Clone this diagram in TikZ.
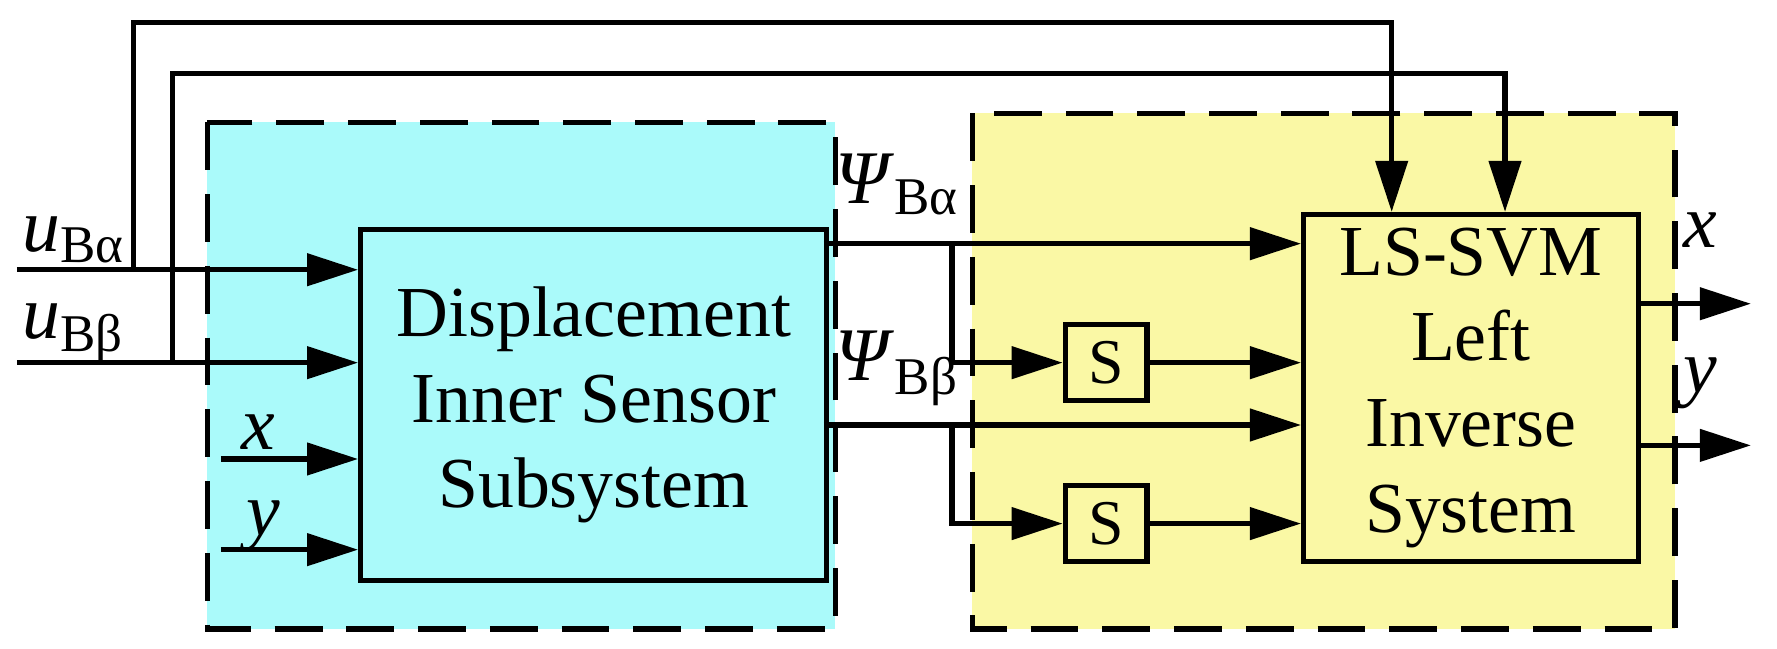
\documentclass[tikz,border=0pt]{standalone}
\usepackage{fontspec}
\setmainfont{Liberation Serif}
\usetikzlibrary{arrows.meta}
\definecolor{cyanbg}{RGB}{170,250,250}
\definecolor{yelbg}{RGB}{250,248,165}
\begin{document}
\begin{tikzpicture}[x=0.01cm,y=-0.01cm,line width=1.3pt,
  arr/.style={-{Triangle[length=0.45cm,width=0.28cm]}},
  dbox/.style={draw,dashed,dash pattern=on 12pt off 6pt,line width=1.3pt},
  blk/.style={draw,line width=1.3pt},
  txt/.style={font=\fontsize{19}{21}\selectfont,inner sep=0pt},
  big/.style={font=\fontsize{18}{21.5}\selectfont,align=center}]
\useasboundingbox (0,0) rectangle (1568,572);
\fill[cyanbg] (183,108) rectangle (737,555);
\draw[dbox] (183,108) rectangle (737,555);
\fill[yelbg] (858,100) rectangle (1478,555);
\draw[dbox] (858,100) rectangle (1478,555);
\node[blk,minimum width=4.11cm,minimum height=3.1cm,big,anchor=north west] (D) at (316,200) {Displacement\\Inner Sensor\\Subsystem};
\node[blk,minimum width=2.95cm,minimum height=2.96cm,big,anchor=north west] (L) at (1148,187) {LS-SVM\\Left\\Inverse\\System};
\node[blk,minimum width=0.72cm,minimum height=0.67cm,font=\fontsize{16}{18}\selectfont] (S1) at (976,320) {S};
\node[blk,minimum width=0.72cm,minimum height=0.67cm,font=\fontsize{16}{18}\selectfont] (S2) at (976,462) {S};
\coordinate (ua) at (15,238); \coordinate (ub) at (15,320);
\coordinate (xi) at (195,405); \coordinate (yi) at (195,485);
\draw[arr] (ua) -- (ua -| D.west);
\draw[arr] (ub) -- (ub -| D.west);
\draw[arr] (xi) -- (xi -| D.west);
\draw[arr] (yi) -- (yi -| D.west);
\coordinate (ta) at (118,238); \coordinate (tb) at (152,320);
\draw[arr] (ta) -- (118,20) -- (1228,20) -- (1228,187);
\draw[arr] (tb) -- (152,65) -- (1328,65) -- (1328,187);
\coordinate (pa) at (727,215); \coordinate (pb) at (727,375);
\draw[arr] (pa) -- (pa -| L.west);
\draw[arr] (pb) -- (pb -| L.west);
\draw[arr] (840,215) -- (840,320) -- (S1.west);
\draw[arr] (840,375) -- (840,462) -- (S2.west);
\draw[arr] (S1.east) -- (S1.east -| L.west);
\draw[arr] (S2.east) -- (S2.east -| L.west);
\coordinate (xo) at (1545,268); \coordinate (yo) at (1545,393);
\draw[arr] (xo -| L.east) -- (xo);
\draw[arr] (yo -| L.east) -- (yo);
\node[txt] (l1) at (65,212) {\textit{u}\textsubscript{Bα}};
\node[txt] (l2) at (65,294) {\textit{u}\textsubscript{Bβ}};
\node[txt] (l3) at (228,381) {\textit{x}};
\node[txt] (l4) at (232,464) {\textit{y}};
\node[txt] (l5) at (792,163) {\textit{Ψ}\textsubscript{Bα}};
\node[txt] (l6) at (792,325) {\textit{Ψ}\textsubscript{Bβ}};
\node[txt] (l7) at (1500,203) {\textit{x}};
\node[txt] (l8) at (1500,338) {\textit{y}};
\end{tikzpicture}
\end{document}
